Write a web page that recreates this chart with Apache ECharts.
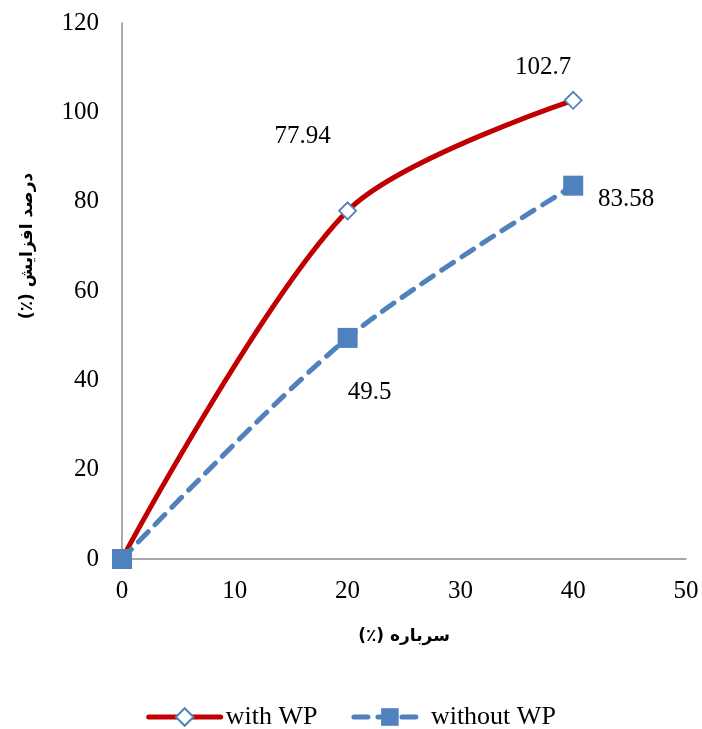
<!DOCTYPE html>
<html>
<head>
<meta charset="utf-8">
<script src="https://cdn.jsdelivr.net/npm/echarts@6/dist/echarts.min.js"></script>
<style>
  html, body { margin: 0; padding: 0; background: #fff; }
  #chart { width: 702px; height: 729px; }
</style>
</head>
<body>
<div id="chart"></div>
<script>
// Slag content (%) on the x axis
const slag = [0, 20, 40];
// Percentage increase for each mix
const withWP = [0, 77.94, 102.7];
const withoutWP = [0, 49.5, 83.58];
const seriesNames = ['with WP', 'without WP'];
const xTicks = { min: 0, max: 50, interval: 10 };
const yTicks = { min: 0, max: 120, interval: 20 };
// Axis titles (Persian), wrapped in a right-to-left embedding
const xTitle = '\u202Bسرباره (٪)\u202C';
const yTitle = '\u202Bدرصد افزایش (٪)\u202C';

// Pixel offsets of the value labels, per point (index 0 has no label)
const withLabelOffset = [null, [-45, -74], [-30, -33]];
const withoutLabelOffset = [null, [22, 55], [53, 14]];

const serif = 'Liberation Serif, Times New Roman, serif';
const red = '#C00000';
const blue = '#4F81BD';
const fs = 25;

function buildData(values, offsets) {
  return values.map((v, i) => {
    const item = { value: [slag[i], v] };
    if (offsets[i]) {
      item.label = {
        show: true,
        position: 'inside',
        offset: offsets[i],
        formatter: String(v),
        color: '#000',
        fontFamily: serif,
        fontSize: fs
      };
    }
    return item;
  });
}

const titleStyle = { fontFamily: 'DejaVu Sans', fontWeight: 'bold', fontSize: 17, color: '#000' };

const chart = echarts.init(document.getElementById('chart'));
chart.setOption({
  animation: false,
  grid: { left: 122, right: 16, top: 23, bottom: 170, containLabel: false },
  xAxis: {
    type: 'value',
    min: xTicks.min, max: xTicks.max, interval: xTicks.interval,
    name: xTitle,
    nameLocation: 'middle',
    nameGap: 69,
    nameTextStyle: titleStyle,
    axisLine: { show: true, onZero: false, lineStyle: { color: '#8c8c8c', width: 1.5 } },
    axisTick: { show: false },
    splitLine: { show: false },
    axisLabel: { fontFamily: serif, fontSize: fs, color: '#000', margin: 20 }
  },
  yAxis: {
    type: 'value',
    min: yTicks.min, max: yTicks.max, interval: yTicks.interval,
    name: yTitle,
    nameLocation: 'middle',
    nameRotate: 90,
    nameGap: 86,
    // left padding lifts the rotated title above the axis midpoint
    nameTextStyle: Object.assign({ padding: [0, 0, 0, 90] }, titleStyle),
    axisLine: { show: true, lineStyle: { color: '#8c8c8c', width: 1.5 } },
    axisTick: { show: false },
    splitLine: { show: false },
    axisLabel: { fontFamily: serif, fontSize: fs, color: '#000', margin: 23 }
  },
  legend: {
    top: 699,
    left: 'center',
    itemWidth: 72,
    itemHeight: 22,
    itemGap: 34,
    lineStyle: { width: 5 },
    textStyle: { fontFamily: serif, fontSize: 26, color: '#000' },
    data: seriesNames
  },
  series: [
    {
      name: seriesNames[0],
      type: 'line',
      smooth: 0.3,
      data: buildData(withWP, withLabelOffset),
      symbol: 'diamond',
      symbolSize: 17,
      showAllSymbol: true,
      lineStyle: { color: red, width: 5, cap: 'round' },
      itemStyle: { color: '#fff', borderColor: blue, borderWidth: 1.8 },
      z: 2
    },
    {
      name: seriesNames[1],
      type: 'line',
      smooth: 0.3,
      data: buildData(withoutWP, withoutLabelOffset),
      symbol: 'rect',
      symbolSize: 20,
      lineStyle: { color: blue, width: 5, type: [14, 10], cap: 'round' },
      itemStyle: { color: blue, borderWidth: 0 },
      z: 3
    }
  ]
});
</script>
</body>
</html>
